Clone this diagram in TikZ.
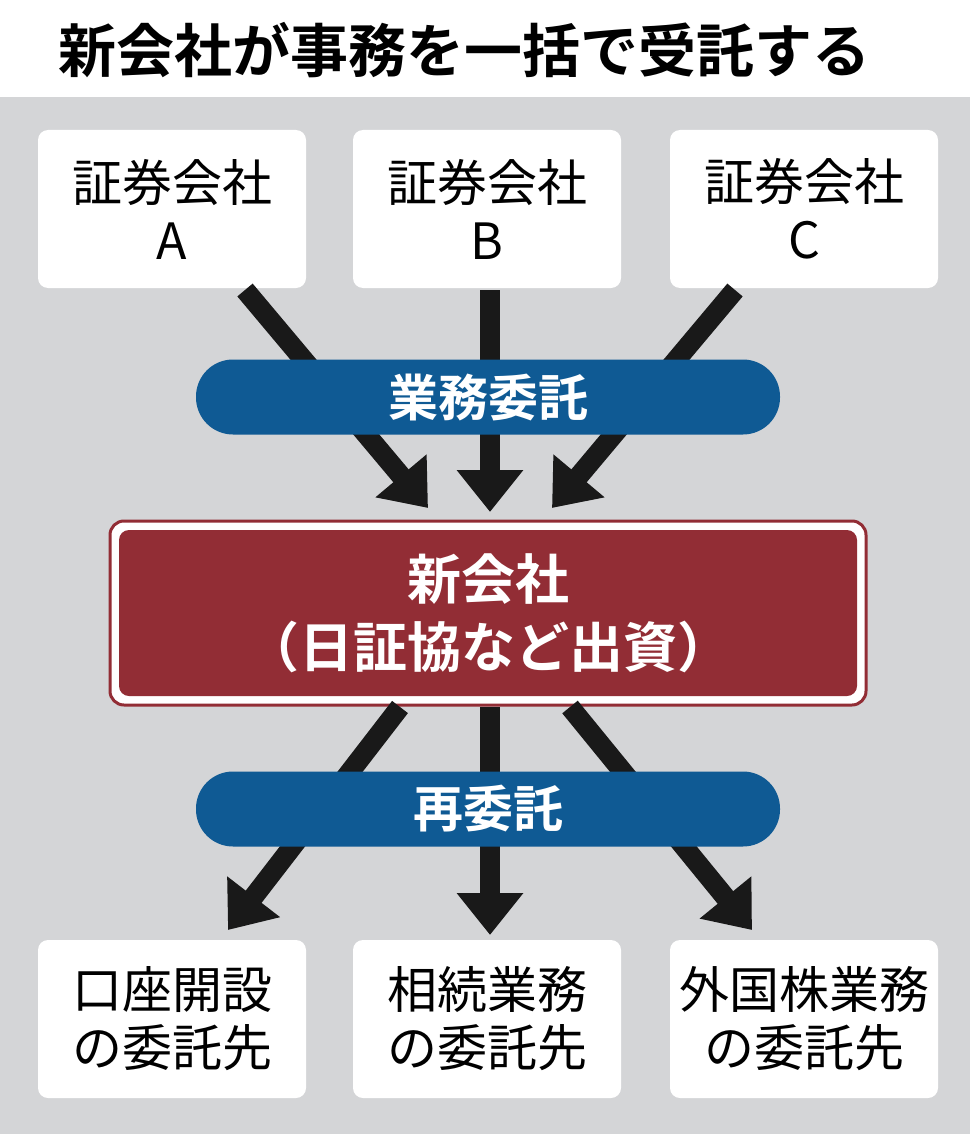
\documentclass[tikz,border=0pt]{standalone}
\usepackage{fontspec}
\setmainfont{Noto Sans CJK JP}
\newfontfamily\jpb{Noto Sans CJK JP Bold}
\usetikzlibrary{arrows.meta}
\definecolor{bg}{HTML}{D4D5D7}
\definecolor{bl}{HTML}{0F5A94}
\definecolor{rd}{HTML}{922D35}
\begin{document}
\begin{tikzpicture}[x=1pt,y=-1pt,
 wbox/.style={fill=white,rounded corners=10pt,minimum width=268pt,minimum height=158pt,align=center,font=\fontsize{50}{58}\selectfont,inner sep=0pt},
 pill/.style={fill=bl,rounded corners=37pt,minimum width=584pt,minimum height=75pt,text=white,font=\jpb\fontsize{50}{56}\selectfont},
 arr/.style={line width=20pt,draw=black!90,-{Triangle[width=64pt,length=42pt]}}]
\useasboundingbox (0,0) rectangle (970,1134);
\fill[white] (0,0) rectangle (970,97);
\fill[bg] (0,97) rectangle (970,1134);
\node[font=\jpb\fontsize{58}{64}\selectfont,anchor=west,inner sep=0pt] (t) at (58,50) {新会社が事務を一括で受託する};
\node[wbox] (a) at (172,209) {証券会社\\A};
\node[wbox] (b) at (487,209) {証券会社\\B};
\node[wbox] (c) at (804,209) {証券会社\\C};
\node[wbox] (d) at (172,1019) {口座開設\\の委託先};
\node[wbox] (e) at (487,1019) {相続業務\\の委託先};
\node[wbox] (f) at (804,1019) {外国株業務\\の委託先};
\node[draw=rd,line width=3pt,fill=white,rounded corners=14pt,minimum width=756pt,minimum height=184pt] (n0) at (488,613) {};
\node[fill=rd,rounded corners=10pt,minimum width=738pt,minimum height=166pt,text=white,align=center,font=\jpb\fontsize{54}{68}\selectfont] (n) at (488,613) {新会社\\（日証協など出資）};
\coordinate (a1) at (245,290); \coordinate (a2) at (428,508);
\coordinate (b1) at (490,290); \coordinate (b2) at (490,512);
\coordinate (c1) at (735,290); \coordinate (c2) at (552,508);
\coordinate (d1) at (400,707); \coordinate (d2) at (228,930);
\coordinate (e1) at (490,707); \coordinate (e2) at (490,935);
\coordinate (f1) at (570,707); \coordinate (f2) at (752,930);
\draw[arr] (a1) -- (a2);
\draw[arr] (b1) -- (b2);
\draw[arr] (c1) -- (c2);
\draw[arr] (d1) -- (d2);
\draw[arr] (e1) -- (e2);
\draw[arr] (f1) -- (f2);
\node[pill] (p1) at (488,397) {業務委託};
\node[pill] (p2) at (488,809) {再委託};
\end{tikzpicture}
\end{document}
